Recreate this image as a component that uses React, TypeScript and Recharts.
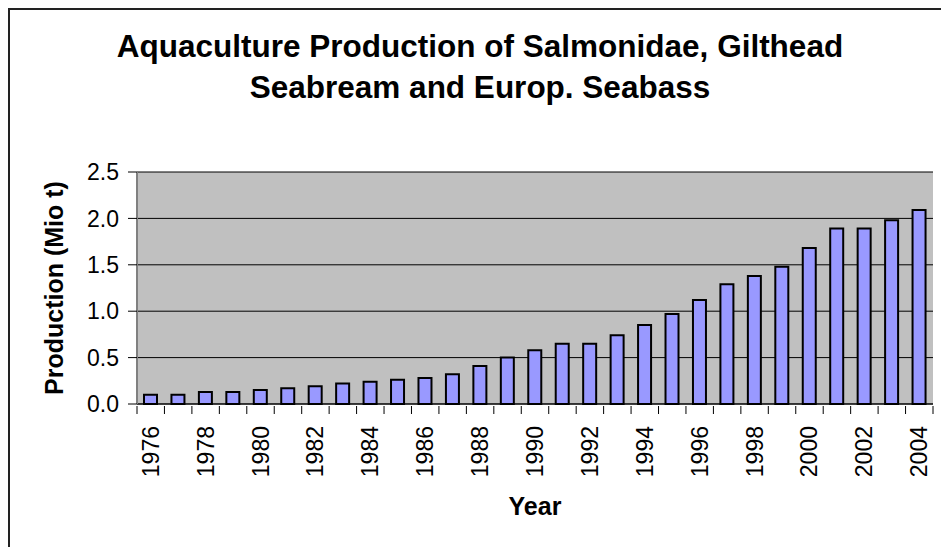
import React from "react";
import { Bar, BarChart, CartesianGrid, Label, XAxis, YAxis } from "recharts";

const years = [
  "1976", "1977", "1978", "1979", "1980", "1981", "1982", "1983", "1984", "1985",
  "1986", "1987", "1988", "1989", "1990", "1991", "1992", "1993", "1994", "1995",
  "1996", "1997", "1998", "1999", "2000", "2001", "2002", "2003", "2004",
];
const production = [
  0.1, 0.1, 0.13, 0.13, 0.15, 0.17, 0.19, 0.22, 0.24, 0.26,
  0.28, 0.32, 0.41, 0.5, 0.58, 0.65, 0.65, 0.74, 0.85, 0.97,
  1.12, 1.29, 1.38, 1.48, 1.68, 1.89, 1.89, 1.98, 2.09,
];
const yTicks = [0, 0.5, 1, 1.5, 2, 2.5];
const titleLines = ["Aquaculture Production of Salmonidae, Gilthead", "Seabream and Europ. Seabass"];

const data = years.map((year, i) => ({ year, production: production[i] }));

const FONT = '"Liberation Sans", Arial, sans-serif';
const W = 933;
const H = 539;
const margin = { top: 164, right: 8, left: 0, bottom: 0 };
const yAxisWidth = 129;
const step = (W - margin.left - margin.right - yAxisWidth) / years.length;

const YearTick = (props: any) => {
  const { x, y, payload, index } = props;
  return (
    <g>
      <line x1={x - step / 2} x2={x - step / 2} y1={y} y2={y + 8} stroke="#000" />
      {index === years.length - 1 && (
        <line x1={x + step / 2} x2={x + step / 2} y1={y} y2={y + 8} stroke="#000" />
      )}
      {index % 2 === 0 && (
        <text
          x={x}
          y={y + 20}
          transform={`rotate(-90, ${x}, ${y + 20})`}
          textAnchor="end"
          dominantBaseline="central"
          fontSize={23}
          fontFamily={FONT}
          fill="#000"
        >
          {payload.value}
        </text>
      )}
    </g>
  );
};

export default function App() {
  return (
    <div style={{ position: "fixed", left: 8, top: 8, width: W, height: H, background: "#fff" }}>
      <div
        style={{
          position: "absolute",
          left: 0,
          top: 0,
          width: W + 20,
          height: H + 20,
          borderLeft: "2px solid #222",
          borderTop: "2px solid #222",
          pointerEvents: "none",
        }}
      />
      <svg width={W} height={120} style={{ position: "absolute", left: 0, top: 0 }}>
        {titleLines.map((line, i) => (
          <text
            key={line}
            x={472}
            y={49 + i * 41}
            textAnchor="middle"
            fontSize={31.5}
            fontWeight="bold"
            fontFamily={FONT}
            fill="#000"
          >
            {line}
          </text>
        ))}
      </svg>
      <div style={{ position: "absolute", left: 0, top: 0 }}>
        <BarChart width={W} height={H} data={data} margin={margin} barSize={13}>
          <CartesianGrid fill="#C0C0C0" fillOpacity={1} vertical={false} stroke="#000" strokeOpacity={1} />
          <XAxis
            dataKey="year"
            interval={0}
            height={H - 396}
            tickSize={0}
            tickLine={false}
            axisLine={{ stroke: "#000" }}
            tick={<YearTick />}
          >
            <Label
              content={(p: any) => {
                const vb = p.viewBox;
                return (
                  <text
                    x={vb.x + vb.width / 2}
                    y={507}
                    textAnchor="middle"
                    fontSize={25}
                    fontWeight="bold"
                    fontFamily={FONT}
                    fill="#000"
                  >
                    Year
                  </text>
                );
              }}
            />
          </XAxis>
          <XAxis xAxisId="t" dataKey="year" orientation="top" height={0} tick={false} tickLine={false} axisLine={{ stroke: "#808080", strokeWidth: 2 }} />
          <YAxis
            width={yAxisWidth}
            domain={[0, 2.5]}
            ticks={yTicks}
            tickFormatter={(v: number) => v.toFixed(1)}
            tickSize={9}
            tickMargin={9}
            tickLine={{ stroke: "#000" }}
            axisLine={{ stroke: "#808080", strokeWidth: 2 }}
            tick={{ fill: "#000", fontSize: 23, fontFamily: FONT }}
          >
            <Label
              content={(p: any) => {
                const vb = p.viewBox;
                const cy = vb.y + vb.height / 2;
                return (
                  <text
                    x={46}
                    y={cy}
                    transform={`rotate(-90, 46, ${cy})`}
                    textAnchor="middle"
                    dominantBaseline="central"
                    fontSize={25}
                    fontWeight="bold"
                    fontFamily={FONT}
                    fill="#000"
                  >
                    Production (Mio t)
                  </text>
                );
              }}
            />
          </YAxis>
          <YAxis yAxisId="r" orientation="right" width={0} domain={[0, 2.5]} tick={false} tickLine={false} axisLine={{ stroke: "#808080", strokeWidth: 2 }} />
          <Bar dataKey="production" fill="#9999FF" stroke="#000" strokeWidth={2} isAnimationActive={false} />
        </BarChart>
      </div>
    </div>
  );
}
